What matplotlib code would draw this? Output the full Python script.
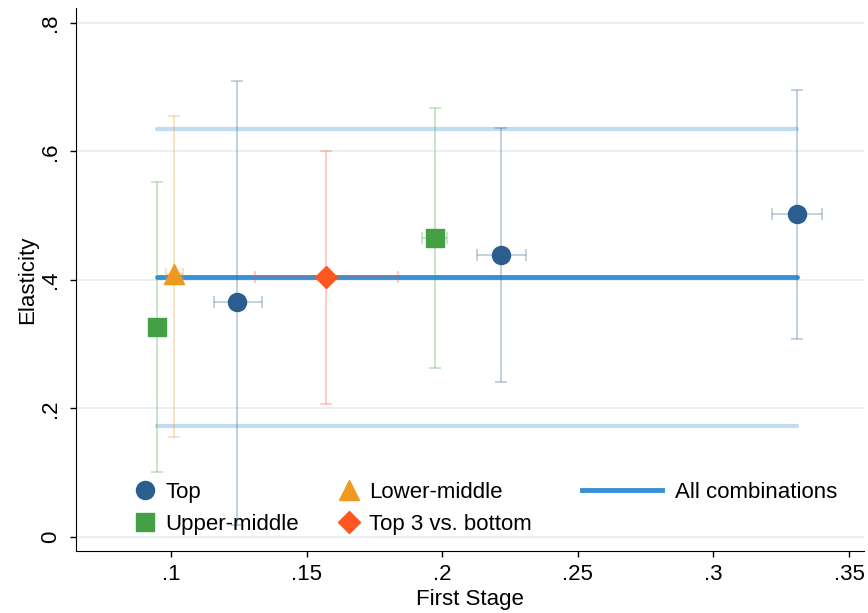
import numpy as np
import matplotlib
matplotlib.use("Agg")
import matplotlib.pyplot as plt
from matplotlib.lines import Line2D

plt.rcParams['font.family'] = ['Liberation Sans', 'DejaVu Sans']

# Top
top_x = [0.1243, 0.2218, 0.3309]
top_y = [0.3655, 0.4386, 0.5018]
top_ylo = [0.019, 0.2416, 0.3084]
top_yhi = [0.7097, 0.6356, 0.6947]
top_xlo = [0.1158, 0.2127, 0.3215]
top_xhi = [0.1334, 0.2309, 0.3400]

# Upper-middle
um_x = [0.0948, 0.1972]
um_y = [0.326, 0.4655]
um_ylo = [0.101, 0.263]
um_yhi = [0.5516, 0.6677]
um_xlo = [0.0930, 0.1926]
um_xhi = [0.0966, 0.2016]

# Lower-middle
lm_x = [0.1012]
lm_y = [0.409]
lm_ylo = [0.1555]
lm_yhi = [0.655]
lm_xlo = [0.0980]
lm_xhi = [0.1043]

# Top 3 vs. bottom
t3_x = [0.1573]
t3_y = [0.4043]
t3_ylo = [0.2064]
t3_yhi = [0.6008]
t3_xlo = [0.1310]
t3_xhi = [0.1838]

# All combinations (estimate and CI)
all_x = [0.0948, 0.3309]
all_est = 0.4038
all_lo = 0.1726
all_hi = 0.635

xticks = [0.1, 0.15, 0.2, 0.25, 0.3, 0.35]
xticklabels = ['.1', '.15', '.2', '.25', '.3', '.35']
yticks = [0, 0.2, 0.4, 0.6, 0.8]
yticklabels = ['0', '.2', '.4', '.6', '.8']

navy = '#2b5e8e'
green = '#459f45'
orange = '#ee9a20'
red = '#ff5722'
blue = '#3790d5'
lightblue = '#c0dcf0'

fs = 16

fig = plt.figure(figsize=(8.68, 6.13), dpi=100)
ax = fig.add_axes([0.0876, 0.1011, 0.9078, 0.8859])

for yv in yticks:
    ax.axhline(yv, color='#e6eff2', lw=1.2, zorder=0)

# CI lines and estimate for all combinations
ax.plot(all_x, [all_hi, all_hi], color=lightblue, lw=3, solid_capstyle='round', zorder=1)
ax.plot(all_x, [all_lo, all_lo], color=lightblue, lw=3, solid_capstyle='round', zorder=1)
ax.plot(all_x, [all_est, all_est], color=blue, lw=3.5, solid_capstyle='round', zorder=2)


def draw(x, y, xlo, xhi, ylo, yhi, color, marker, ms):
    x = np.array(x); y = np.array(y)
    yerr = [y - np.array(ylo), np.array(yhi) - y]
    xerr = [x - np.array(xlo), np.array(xhi) - x]
    ax.errorbar(x, y, yerr=yerr, xerr=xerr, fmt='none', ecolor=color, alpha=0.3,
                elinewidth=1.3, capsize=4, capthick=1.3, zorder=3)
    ax.plot(x, y, linestyle='none', marker=marker, ms=ms, color=color,
            markeredgecolor=color, zorder=4)


draw(top_x, top_y, top_xlo, top_xhi, top_ylo, top_yhi, navy, 'o', 13)
draw(um_x, um_y, um_xlo, um_xhi, um_ylo, um_yhi, green, 's', 12.5)
draw(lm_x, lm_y, lm_xlo, lm_xhi, lm_ylo, lm_yhi, orange, '^', 14)
draw(t3_x, t3_y, t3_xlo, t3_xhi, t3_ylo, t3_yhi, red, 'D', 11.5)

ax.set_xlim(0.065, 0.3555)
ax.set_ylim(-0.022, 0.823)
ax.set_xticks(xticks)
ax.set_xticklabels(xticklabels)
ax.set_yticks(yticks)
ax.set_yticklabels(yticklabels, rotation=90, va='center')
ax.tick_params(labelsize=fs, length=4, width=1)
ax.tick_params(axis='x', pad=5.5)
ax.tick_params(axis='y', pad=7)
ax.spines['top'].set_visible(False)
ax.spines['right'].set_visible(False)
ax.set_xlabel('First Stage', fontsize=fs, labelpad=3)
ax.set_ylabel('Elasticity', fontsize=fs, labelpad=1)

h_top = Line2D([], [], ls='none', marker='o', ms=13, color=navy)
h_um = Line2D([], [], ls='none', marker='s', ms=12.5, color=green)
h_lm = Line2D([], [], ls='none', marker='^', ms=14, color=orange)
h_t3 = Line2D([], [], ls='none', marker='D', ms=11.5, color=red)
h_all = Line2D([], [], color=blue, lw=3.5)

leg1 = ax.legend([h_top, h_um, h_lm, h_t3],
                 ['Top', 'Upper-middle', 'Lower-middle', 'Top 3 vs. bottom'],
                 ncol=2, loc='center left', bbox_to_anchor=(0.074, 0.079),
                 frameon=False, fontsize=fs, handlelength=1.0, handletextpad=0.4,
                 columnspacing=1.75, labelspacing=0.5, borderpad=0, borderaxespad=0)
ax.add_artist(leg1)
ax.legend([h_all], ['All combinations'], loc='center left',
          bbox_to_anchor=(0.642, 0.1085), frameon=False, fontsize=fs,
          handlelength=3.6, handletextpad=0.6, borderpad=0, borderaxespad=0)

fig.savefig('out.png', dpi=100)
